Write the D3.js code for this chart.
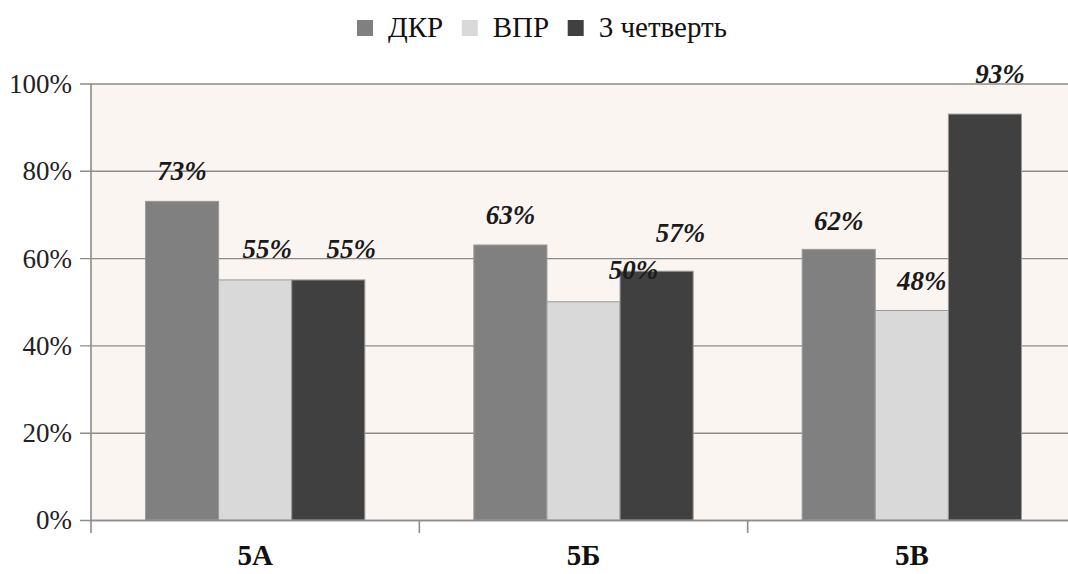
<!DOCTYPE html>
<html><head><meta charset="utf-8">
<script src="https://cdn.jsdelivr.net/npm/d3@7"></script>
<style>body{margin:0;background:#fff}svg{display:block}</style>
</head><body>
<svg id="c" width="1068" height="574"></svg>
<script>
const categories = ["5А", "5Б", "5В"];
const seriesNames = ["ДКР", "ВПР", "3 четверть"];
const dkr = [73, 63, 62];
const vpr = [55, 50, 48];
const q3 = [55, 57, 93];
const yTicks = [0, 20, 40, 60, 80, 100];
const colors = ["#808080", "#d9d9d9", "#404040"];
// label nudges [dx, dy] relative to bar top center
const labelNudge = [
  [[0,-31],[0,-30],[0,-29]],
  [[12,-31],[50,-32],[10,-30]],
  [[23,-31],[24,-39],[15,-41]]
];
const seriesValues = [dkr, vpr, q3];
const SERIF = "Liberation Serif";

const svg = d3.select("#c");
const pLeft = 91, pTop = 83.5, pBottom = 520, pRight = 1076;
const x = d3.scaleBand().domain(categories).range([pLeft, pRight]).padding(0);
const bw = x.bandwidth();
const xs = d3.scaleBand().domain(d3.range(3)).range([bw*0.166, bw*0.834]).padding(0);
const y = d3.scaleLinear().domain([0, 100]).range([pBottom, pTop]);

svg.append("rect").attr("x", pLeft).attr("y", pTop).attr("width", pRight-pLeft).attr("height", pBottom-pTop).attr("fill", "#faf5f1");

// gridlines + ticks
const yAxis = d3.axisLeft(y).tickValues(yTicks).tickSize(11).tickFormat(d => d + "%").tickPadding(8);
const ga = svg.append("g").attr("transform", `translate(${pLeft},0)`).call(yAxis);
ga.attr("font-family", SERIF).attr("font-size", 27);
ga.select(".domain").remove();
ga.selectAll(".tick line").attr("x1", -11).attr("x2", pRight-pLeft).attr("stroke", "#8c8c8c").attr("stroke-width", 1.4);
ga.selectAll(".tick text").attr("font-family", SERIF).attr("font-size", 27).attr("fill", "#222").attr("dy", "0.33em");

// left axis line
svg.append("line").attr("x1", pLeft).attr("x2", pLeft).attr("y1", pTop).attr("y2", pBottom+13).attr("stroke", "#8c8c8c").attr("stroke-width", 1.6);

// bars
seriesValues.forEach((vals, si) => {
  svg.append("g").selectAll("rect").data(vals).join("rect")
    .attr("x", (d, i) => x(categories[i]) + xs(si))
    .attr("y", d => y(d))
    .attr("width", xs.bandwidth())
    .attr("height", d => y(0) - y(d))
    .attr("fill", colors[si])
    .attr("stroke", "#9a9a9a").attr("stroke-width", 1);
});

// bottom axis
const xAxis = d3.axisBottom(x).tickSize(0).tickPadding(0);
const gx = svg.append("g").attr("transform", `translate(0,${pBottom})`).call(xAxis);
gx.attr("font-family", SERIF).attr("font-size", 29);
gx.select(".domain").attr("stroke", "#8c8c8c").attr("stroke-width", 1.6);
gx.selectAll(".tick text").attr("font-family", SERIF).attr("font-size", 29).attr("font-weight", "bold").attr("fill", "#111").attr("y", 45).attr("dy", 0);
// separators between categories
svg.append("g").selectAll("line").data(categories.slice(1)).join("line")
  .attr("x1", d => x(d)).attr("x2", d => x(d)).attr("y1", pBottom).attr("y2", pBottom+13)
  .attr("stroke", "#8c8c8c").attr("stroke-width", 1.6);

// value labels
seriesValues.forEach((vals, si) => {
  svg.append("g").selectAll("text").data(vals).join("text")
    .attr("x", (d, i) => x(categories[i]) + xs(si) + xs.bandwidth()/2 + labelNudge[si][i][0])
    .attr("y", (d, i) => y(d) + labelNudge[si][i][1])
    .attr("dy", "0.35em")
    .attr("text-anchor", "middle")
    .attr("font-family", SERIF).attr("font-size", 27)
    .attr("font-weight", "bold").attr("font-style", "italic").attr("fill", "#1a1a1a")
    .text(d => d + "%");
});

// legend (spread across 357..727 like the reference)
const lg = svg.append("g");
const items = lg.selectAll("g").data(seriesNames).join("g");
items.append("rect").attr("width", 16).attr("height", 16).attr("y", 20).attr("fill", (d, i) => colors[i]);
items.append("text").attr("x", 31).attr("y", 37).attr("font-family", SERIF).attr("font-size", 29).attr("fill", "#111").text(d => d);
const widths = [];
items.each(function(){ widths.push(this.getBBox().width); });
const legStart = 357, legEnd = 727;
const gap = (legEnd - legStart - d3.sum(widths)) / (widths.length - 1);
let start = legStart;
items.attr("transform", (d, i) => { const t = `translate(${start},0)`; start += widths[i] + gap; return t; });
</script>
</body></html>
